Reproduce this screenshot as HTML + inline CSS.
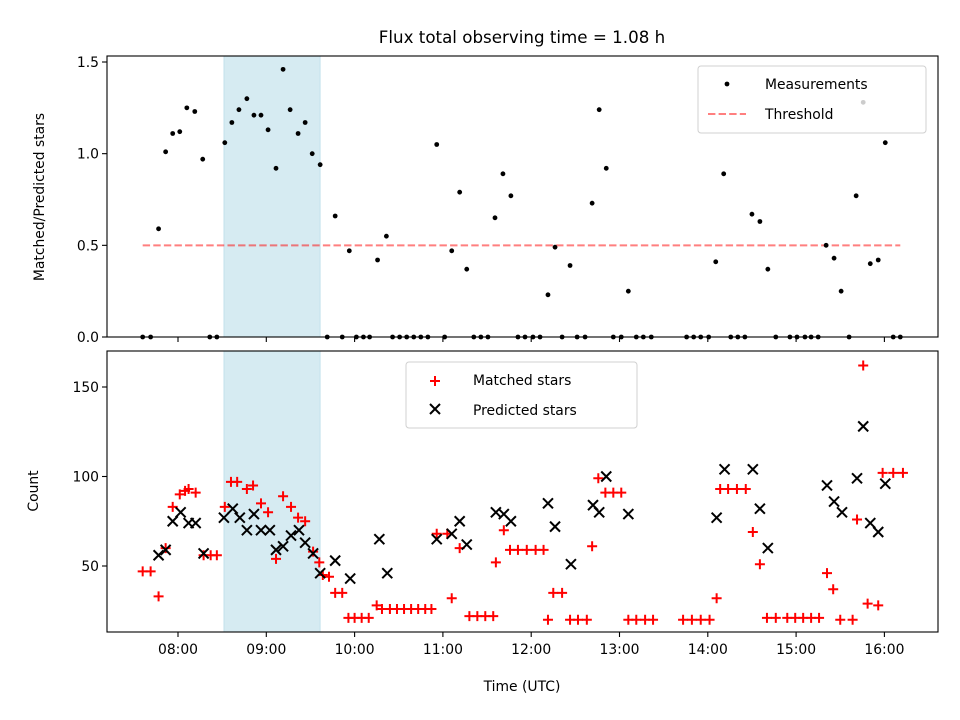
<!DOCTYPE html>
<html><head><meta charset="utf-8"><style>
html,body{margin:0;padding:0;background:#fff}
svg{display:block;font-family:"DejaVu Sans","Liberation Sans",sans-serif}
</style></head><body>
<svg id="chart" width="960" height="720" viewBox="0 0 960 720" xmlns="http://www.w3.org/2000/svg">
<text x="522" y="43" font-size="16.7" text-anchor="middle">Flux total observing time = 1.08 h</text>
<g id="topPanel"></g><g id="botPanel"></g>
</svg>
<script>
const ratioTimes=[7.60,7.69,7.78,7.86,7.94,8.02,8.10,8.19,8.28,8.36,8.44,8.53,8.61,8.69,8.78,8.86,8.94,9.02,9.11,9.19,9.27,9.36,9.44,9.52,9.61,9.69,9.78,9.86,9.94,10.02,10.10,10.17,10.26,10.36,10.43,10.51,10.59,10.67,10.75,10.83,10.93,11.02,11.10,11.19,11.27,11.35,11.43,11.51,11.59,11.68,11.77,11.85,11.93,12.02,12.10,12.19,12.27,12.35,12.44,12.52,12.61,12.69,12.77,12.85,12.93,13.02,13.10,13.19,13.27,13.36,13.76,13.84,13.92,14.01,14.09,14.18,14.26,14.34,14.42,14.50,14.59,14.68,14.77,14.93,15.01,15.10,15.17,15.25,15.34,15.43,15.51,15.60,15.68,15.76,15.84,15.93,16.01,16.10,16.18];
const ratioValues=[0,0,0.59,1.01,1.11,1.12,1.25,1.23,0.97,0,0,1.06,1.17,1.24,1.30,1.21,1.21,1.13,0.92,1.46,1.24,1.11,1.17,1.00,0.94,0,0.66,0,0.47,0,0,0,0.42,0.55,0,0,0,0,0,0,1.05,0,0.47,0.79,0.37,0,0,0,0.65,0.89,0.77,0,0,0,0,0.23,0.49,0,0.39,0,0,0.73,1.24,0.92,0,0,0.25,0,0,0,0,0,0,0,0.41,0.89,0,0,0,0.67,0.63,0.37,0,0,0,0,0,0,0.50,0.43,0.25,0,0.77,1.28,0.40,0.42,1.06,0,0];
const matchedTimes=[7.60,7.69,7.78,7.86,7.94,8.02,8.08,8.12,8.20,8.29,8.37,8.44,8.53,8.60,8.67,8.78,8.85,8.94,9.02,9.11,9.19,9.28,9.36,9.44,9.53,9.60,9.64,9.71,9.78,9.86,9.93,10.00,10.08,10.16,10.25,10.31,10.40,10.48,10.56,10.64,10.72,10.80,10.87,10.93,11.05,11.10,11.19,11.30,11.39,11.48,11.57,11.60,11.69,11.76,11.85,11.95,12.05,12.14,12.19,12.25,12.35,12.44,12.53,12.63,12.69,12.76,12.84,12.93,13.02,13.10,13.19,13.29,13.38,13.72,13.82,13.92,14.02,14.10,14.14,14.23,14.33,14.43,14.51,14.59,14.67,14.77,14.90,14.99,15.08,15.17,15.26,15.35,15.42,15.50,15.64,15.69,15.76,15.81,15.93,15.98,16.10,16.21];
const matchedValues=[47,47,33,60,83,90,92,93,91,56,56,56,83,97,97,93,95,85,80,54,89,83,77,75,58,52,45,44,35,35,21,21,21,21,28,26,26,26,26,26,26,26,26,68,68,32,60,22,22,22,22,52,70,59,59,59,59,59,20,35,35,20,20,20,61,99,91,91,91,20,20,20,20,20,20,20,20,32,93,93,93,93,69,51,21,21,21,21,21,21,21,46,37,20,20,76,162,29,28,102,102,102];
const predTimes=[7.78,7.86,7.94,8.03,8.12,8.20,8.29,8.52,8.62,8.70,8.78,8.86,8.94,9.04,9.11,9.19,9.28,9.37,9.44,9.53,9.61,9.78,9.95,10.28,10.37,10.93,11.10,11.19,11.27,11.60,11.69,11.77,12.19,12.27,12.45,12.70,12.77,12.85,13.10,14.10,14.19,14.51,14.59,14.68,15.35,15.43,15.52,15.69,15.76,15.84,15.93,16.01];
const predValues=[56,59,75,80,74,74,57,77,82,77,70,79,70,70,59,61,67,70,63,57,46,53,43,65,46,65,68,75,62,80,79,75,85,72,51,84,80,100,79,77,104,104,82,60,95,86,80,99,128,74,69,96];
const xTicks=[8,9,10,11,12,13,14,15,16];
const xTickLabels=["08:00","09:00","10:00","11:00","12:00","13:00","14:00","15:00","16:00"];
const topTicks=[0,0.5,1.0,1.5];
const topTickLabels=["0.0","0.5","1.0","1.5"];
const botTicks=[50,100,150];
const botTickLabels=["50","100","150"];
const span=[8.52,9.61];
const threshold=0.5;
const thrRange=[7.60,16.18];

const NS="http://www.w3.org/2000/svg";
const L=107,R=938,TT=56,TB=337,BT=351,BB=632;
const X=h=>178+(h-8)*88.3;
const YT=v=>337-v*183.33;
const YB=v=>655.5-v*1.79;
function mk(p,tag,at,txt){const e=document.createElementNS(NS,tag);for(const k in at)e.setAttribute(k,at[k]);if(txt!=null)e.textContent=txt;p.appendChild(e);return e;}
const topG=document.getElementById('topPanel'),botG=document.getElementById('botPanel');



[[topG,TT,TB],[botG,BT,BB]].forEach(([g,t,b])=>{
  const s=mk(g,'rect',{x:X(span[0]),y:t,width:X(span[1])-X(span[0]),height:b-t,fill:'#add8e6','fill-opacity':0.5,stroke:'#add8e6','stroke-opacity':0.6});
  
  
});
const th=mk(topG,'line',{x1:X(thrRange[0]),x2:X(thrRange[1]),y1:YT(threshold),y2:YT(threshold),stroke:'#ff0000','stroke-opacity':0.5,'stroke-width':2,'stroke-dasharray':'7.4,3.2'});


ratioTimes.forEach((t,i)=>{
  const c=mk(topG,'circle',{cx:X(t),cy:YT(ratioValues[i]),r:2.4,fill:'#000'});
  
  
});
matchedTimes.forEach((t,i)=>{
  const x=X(t),y=YB(matchedValues[i]),d=5;
  const p=mk(botG,'path',{d:`M${x-d},${y}H${x+d}M${x},${y-d}V${y+d}`,stroke:'#ff0000','stroke-width':2});
  
  
});
predTimes.forEach((t,i)=>{
  const x=X(t),y=YB(predValues[i]),d=5;
  const p=mk(botG,'path',{d:`M${x-d},${y-d}L${x+d},${y+d}M${x-d},${y+d}L${x+d},${y-d}`,stroke:'#000','stroke-width':2});
  
  
});
[[topG,TT,TB],[botG,BT,BB]].forEach(([g,t,b])=>{
  const f=mk(g,'rect',{x:L,y:t,width:R-L,height:b-t,fill:'none',stroke:'#000','stroke-width':1.1});
  
  
  xTicks.forEach(h=>{mk(g,'line',{x1:X(h),x2:X(h),y1:b,y2:b+5,stroke:'#000','stroke-width':1.1});});
});
xTicks.forEach((h,i)=>{
  const t=mk(botG,'text',{x:X(h),y:BB+22,'font-size':13.9,'text-anchor':'middle'},xTickLabels[i]);
  
  
});
topTicks.forEach((v,i)=>{
  mk(topG,'line',{x1:L-5,x2:L,y1:YT(v),y2:YT(v),stroke:'#000','stroke-width':1.1});
  const t=mk(topG,'text',{x:L-8,y:YT(v)+5,'font-size':13.9,'text-anchor':'end'},topTickLabels[i]);
  
  
});
botTicks.forEach((v,i)=>{
  mk(botG,'line',{x1:L-5,x2:L,y1:YB(v),y2:YB(v),stroke:'#000','stroke-width':1.1});
  const t=mk(botG,'text',{x:L-8,y:YB(v)+5,'font-size':13.9,'text-anchor':'end'},botTickLabels[i]);
  
  
});
let a=mk(botG,'text',{x:522,y:691,'font-size':13.9,'text-anchor':'middle'},'Time (UTC)');

a=mk(topG,'text',{x:0,y:0,'font-size':13.9,'text-anchor':'middle',transform:'translate(44,197) rotate(-90)'},'Matched/Predicted stars');

a=mk(botG,'text',{x:0,y:0,'font-size':13.9,'text-anchor':'middle',transform:'translate(38,491) rotate(-90)'},'Count');

let lg=mk(topG,'g',{});

mk(lg,'rect',{x:698,y:66,width:228,height:67,rx:3,fill:'#fff','fill-opacity':0.8,stroke:'#d0d0d0'});
mk(lg,'circle',{cx:727,cy:84,r:2.4,fill:'#000'});
mk(lg,'text',{x:765,y:89,'font-size':13.9},'Measurements');
mk(lg,'line',{x1:708,x2:746,y1:114,y2:114,stroke:'#ff0000','stroke-opacity':0.5,'stroke-width':2,'stroke-dasharray':'7.4,3.2'});
mk(lg,'text',{x:765,y:119,'font-size':13.9},'Threshold');
lg=mk(botG,'g',{});

mk(lg,'rect',{x:406,y:362,width:231,height:66,rx:3,fill:'#fff','fill-opacity':0.8,stroke:'#d0d0d0'});
mk(lg,'path',{d:'M430,381H440M435,376V386',stroke:'#ff0000','stroke-width':2});
mk(lg,'text',{x:473,y:385,'font-size':13.9},'Matched stars');
mk(lg,'path',{d:'M430,404L440,414M430,414L440,404',stroke:'#000','stroke-width':2});
mk(lg,'text',{x:473,y:415,'font-size':13.9},'Predicted stars');
</script>
</body></html>
